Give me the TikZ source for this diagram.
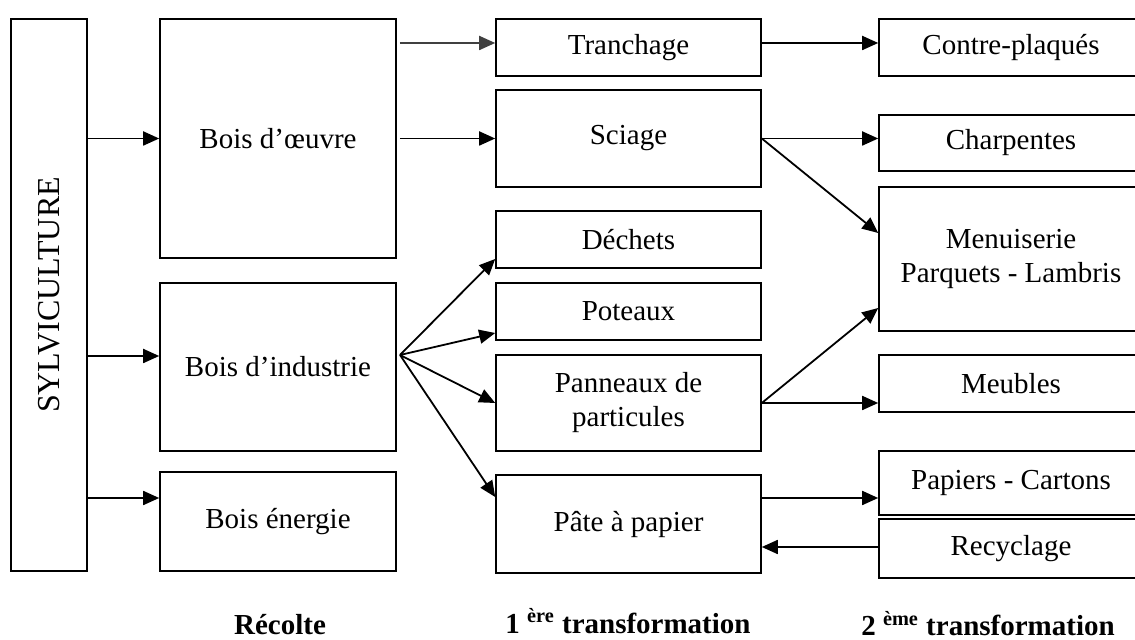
\documentclass[tikz,border=0pt]{standalone}
\usepackage{graphicx}
\usepackage{fontspec}
\setmainfont{Liberation Serif}
\usetikzlibrary{arrows.meta}
\definecolor{mygray}{RGB}{64,64,64}
\tikzset{
    boite/.style={draw, line width=0.8pt, inner sep=2pt, align=center,
        font=\fontsize{14.5}{17}\selectfont},
    fleche/.style={line width=0.9pt, -{Triangle[length=8pt, width=7pt]}},
    etape/.style={anchor=base, font=\fontsize{14.5}{17}\selectfont\bfseries}
}

\begin{document}
\begin{tikzpicture}[x=0.5pt, y=-0.5pt]
    \useasboundingbox (0,0) rectangle (1135,640);
    \clip (0,0) rectangle (1135,640);
    % Recolte
    \node[boite, minimum width=38pt, minimum height=276pt] (sylv) at (49,295)
        {\rotatebox{90}{\fontsize{16}{19}\selectfont SYLVICULTURE}};
    \node[boite, minimum width=118pt, minimum height=119.5pt] (oeuvre) at (278,138.5) {Bois d’œuvre};
    \node[boite, minimum width=118pt, minimum height=84pt] (industrie) at (278,367) {Bois d’industrie};
    \node[boite, minimum width=118pt, minimum height=49.5pt] (energie) at (278,521.5) {Bois énergie};
    % 1ere transformation
    \node[boite, minimum width=132.5pt, minimum height=28.5pt] (tranchage) at (628.5,47.5) {Tranchage};
    \node[boite, minimum width=132.5pt, minimum height=48.5pt] (sciage) at (628.5,138.5) {Sciage};
    \node[boite, minimum width=132.5pt, minimum height=28.5pt] (dechets) at (628.5,239.5) {Déchets};
    \node[boite, minimum width=132.5pt, minimum height=28.5pt] (poteaux) at (628.5,311.5) {Poteaux};
    \node[boite, minimum width=132.5pt, minimum height=48pt] (panneaux) at (628.5,403) {Panneaux de\\particules};
    \node[boite, minimum width=132.5pt, minimum height=49pt] (pate) at (628.5,524) {Pâte à papier};
    % 2eme transformation
    \node[boite, minimum width=132pt, minimum height=28.5pt] (contre) at (1011,47.5) {Contre-plaqués};
    \node[boite, minimum width=132pt, minimum height=28pt] (charpentes) at (1011,143) {Charpentes};
    \node[boite, minimum width=132pt, minimum height=72pt] (menuiserie) at (1011,259) {Menuiserie\\Parquets - Lambris};
    \node[boite, minimum width=132pt, minimum height=28.5pt] (meubles) at (1011,383.5) {Meubles};
    \node[boite, minimum width=132pt, minimum height=32pt] (papiers) at (1011,483) {Papiers - Cartons};
    \node[boite, minimum width=132pt, minimum height=29.5pt] (recyclage) at (1011,548.5) {Recyclage};
    % Connexions
    \draw[fleche] (sylv.east |- oeuvre.west) -- (oeuvre.west);
    \draw[fleche] (sylv.east |- 0,356) -- (industrie.west |- 0,356);
    \draw[fleche] (sylv.east |- 0,498) -- (energie.west |- 0,498);
    \draw[fleche, mygray] ([xshift=1.5pt]oeuvre.east |- 0,43) -- (tranchage.west |- 0,43);
    \draw[fleche] ([xshift=1.5pt]oeuvre.east |- sciage.west) -- (sciage.west);
    \coordinate (fan) at (400,355);
    \draw[fleche] (fan) -- (dechets.west |- 0,259);
    \draw[fleche] (fan) -- (poteaux.west |- 0,333);
    \draw[fleche] (fan) -- (panneaux.west);
    \draw[fleche] (fan) -- (pate.west |- 0,497);
    \draw[fleche] (tranchage.east |- 0,43) -- (contre.west |- 0,43);
    \draw[fleche] (sciage.east) -- (charpentes.west |- sciage.east);
    \draw[fleche] (sciage.east) -- (menuiserie.west |- 0,233);
    \draw[fleche] (panneaux.east) -- (menuiserie.west |- 0,308);
    \draw[fleche] (panneaux.east) -- (meubles.west |- panneaux.east);
    \draw[fleche] (pate.east |- 0,498) -- (papiers.west |- 0,498);
    \draw[fleche] (recyclage.west |- 0,547) -- (pate.east |- 0,547);
    % Titres
    \node[etape] (recolte) at (280,634) {Récolte};
    \node[etape] (trans1) at (628,633) {1 \textsuperscript{ère} transformation};
    \node[etape] (trans2) at (988,636) {2 \textsuperscript{ème} transformation};
\end{tikzpicture}
\end{document}
